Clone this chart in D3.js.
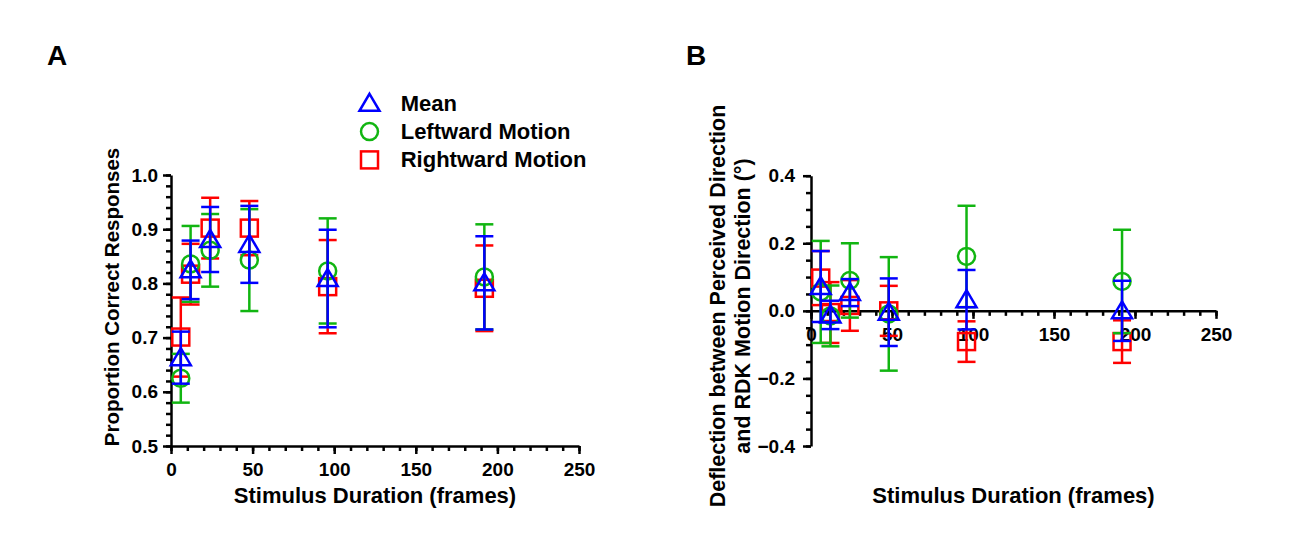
<!DOCTYPE html>
<html lang="en">
<head>
<meta charset="utf-8">
<title>Proportion correct and deflection by stimulus duration</title>
<script src="https://cdn.jsdelivr.net/npm/d3@7"></script>
<style>
  body { margin: 0; background: #fff; }
  svg text { font-family: "Liberation Sans", Arial, sans-serif; font-weight: bold; fill: #000; }
</style>
</head>
<body>
<script>

// stimulus durations (frames)
var durations = [6, 12, 24, 48, 96, 192];

// panel A: proportion correct, mean and error half-width
var propMean      = [0.663, 0.825, 0.881, 0.872, 0.809, 0.801];
var propMeanErr   = [0.048, 0.054, 0.060, 0.071, 0.090, 0.086];
var propLeft      = [0.625, 0.836, 0.861, 0.843, 0.823, 0.812];
var propLeftErr   = [0.045, 0.070, 0.067, 0.094, 0.097, 0.097];
var propRight     = [0.701, 0.817, 0.902, 0.902, 0.794, 0.791];
var propRightErr  = [0.073, 0.056, 0.056, 0.050, 0.086, 0.079];

// panel B: deflection (deg)
var deflMean      = [0.072, -0.012, 0.054, -0.004, 0.033, 0.000];
var deflMeanErr   = [0.105, 0.042, 0.040, 0.100, 0.088, 0.089];
var deflLeft      = [0.056, -0.015, 0.090, -0.009, 0.161, 0.087];
var deflLeftErr   = [0.151, 0.090, 0.110, 0.168, 0.150, 0.153];
var deflRight     = [0.097, -0.005, 0.016, 0.000, -0.091, -0.091];
var deflRightErr  = [0.080, 0.090, 0.075, 0.074, 0.060, 0.063];

var xTicks = [0, 50, 100, 150, 200, 250];
var yTicksA = [0.5, 0.6, 0.7, 0.8, 0.9, 1.0];
var yTicksB = [-0.4, -0.2, 0.0, 0.2, 0.4];

var seriesNames = ["Mean", "Leftward Motion", "Rightward Motion"];
var colors = { mean: "#0000ff", left: "#11b511", right: "#ff0000" };

var w = 1298, h = 542;
var svg = d3.select("body").append("svg").attr("width", w).attr("height", h);

var sw = 2.5;

//marker shapes
function drawMarker(g, shape, color) {
  if (shape == "triangle") {
    g.append("path").attr("d", "M0,-9.5L10,7.5L-10,7.5Z");
  } else if (shape == "circle") {
    g.append("circle").attr("r", 8.5);
  } else {
    g.append("rect").attr("x", -8.5).attr("y", -8.5).attr("width", 17).attr("height", 17);
  }
  g.selectAll("*").attr("fill", "none").attr("stroke", color).attr("stroke-width", sw);
}

function drawPanel(cfg) {
  var x = d3.scaleLinear().domain([0, 250]).range([cfg.x0, cfg.x1]);
  var y = d3.scaleLinear().domain(cfg.yDomain).range([cfg.y1, cfg.y0]);
  var g = svg.append("g");

  var xAxisY = y(cfg.xAxisAt);

  //minor ticks
  g.append("g").attr("transform", "translate(0," + xAxisY + ")")
    .call(d3.axisBottom(x).tickValues(d3.range(0, 251, 10)).tickSize(5).tickFormat(""))
    .call(function(s) { s.select(".domain").remove(); });
  g.append("g").attr("transform", "translate(" + cfg.x0 + ",0)")
    .call(d3.axisLeft(y).tickValues(cfg.yMinor).tickSize(5).tickFormat(""))
    .call(function(s) { s.select(".domain").remove(); });

  //major ticks and labels
  g.append("g").attr("transform", "translate(0," + xAxisY + ")")
    .call(d3.axisBottom(x).tickValues(xTicks).tickSize(8).tickSizeOuter(0).tickPadding(9).tickFormat(d3.format("d")));
  g.append("g").attr("transform", "translate(" + cfg.x0 + ",0)")
    .call(d3.axisLeft(y).tickValues(cfg.yTicks).tickSize(8).tickSizeOuter(0).tickPadding(cfg.yPad).tickFormat(d3.format(".1f")));

  g.selectAll(".tick text").attr("font-size", 19);
  g.selectAll(".domain, .tick line").attr("stroke", "#000").attr("stroke-width", sw);
  g.selectAll("g").attr("font-family", null);

  var series = [
    { vals: cfg.right, err: cfg.rightErr, shape: "square", color: colors.right },
    { vals: cfg.left, err: cfg.leftErr, shape: "circle", color: colors.left },
    { vals: cfg.mean, err: cfg.meanErr, shape: "triangle", color: colors.mean }
  ];

  series.forEach(function(s) {
    var sg = g.append("g");
    durations.forEach(function(d, i) {
      var cx = x(d), hi = y(s.vals[i] + s.err[i]), lo = y(s.vals[i] - s.err[i]);
      sg.append("line").attr("x1", cx).attr("x2", cx).attr("y1", hi).attr("y2", lo);
      sg.append("line").attr("x1", cx - 9).attr("x2", cx + 9).attr("y1", hi).attr("y2", hi);
      sg.append("line").attr("x1", cx - 9).attr("x2", cx + 9).attr("y1", lo).attr("y2", lo);
    });
    sg.selectAll("line").attr("stroke", s.color).attr("stroke-width", sw);
    durations.forEach(function(d, i) {
      var mg = sg.append("g").attr("transform", "translate(" + x(d) + "," + y(s.vals[i]) + ")");
      drawMarker(mg, s.shape, s.color);
    });
  });

  //axis titles
  g.append("text").attr("x", (cfg.x0 + cfg.x1) / 2).attr("y", 503)
    .attr("text-anchor", "middle").attr("font-size", 22).text("Stimulus Duration (frames)");

  cfg.yTitle.forEach(function(t, i) {
    g.append("text")
      .attr("transform", "translate(" + cfg.yTitleX[i] + "," + cfg.yTitleY + ") rotate(-90)")
      .attr("text-anchor", "middle").attr("font-size", cfg.yTitleSize).text(t);
  });

  g.append("text").attr("x", cfg.labelX).attr("y", 65).attr("font-size", 28).text(cfg.label);
}

drawPanel({
  x0: 171, x1: 579, y0: 175, y1: 446,
  yDomain: [0.5, 1.0], xAxisAt: 0.5,
  yTicks: yTicksA, yMinor: d3.range(0.5, 1.001, 0.02), yPad: 5,
  mean: propMean, meanErr: propMeanErr,
  left: propLeft, leftErr: propLeftErr,
  right: propRight, rightErr: propRightErr,
  yTitle: ["Proportion Correct Responses"], yTitleX: [119], yTitleY: 297, yTitleSize: 20.5,
  label: "A", labelX: 47
});

drawPanel({
  x0: 811, x1: 1216, y0: 175.7, y1: 446,
  yDomain: [-0.4, 0.4], xAxisAt: 0,
  yTicks: yTicksB, yMinor: d3.range(-0.4, 0.401, 0.05), yPad: 8,
  mean: deflMean, meanErr: deflMeanErr,
  left: deflLeft, leftErr: deflLeftErr,
  right: deflRight, rightErr: deflRightErr,
  yTitle: ["Deflection between Perceived Direction", "and RDK Motion Direction (\u00b0)"],
  yTitleX: [725, 750], yTitleY: 306, yTitleSize: 21.5,
  label: "B", labelX: 686
});

//legend
var legend = svg.append("g");
var legendShapes = ["triangle", "circle", "square"];
var legendColors = [colors.mean, colors.left, colors.right];
seriesNames.forEach(function(name, i) {
  var ly = 103.3 + i * 28.3;
  var mg = legend.append("g").attr("transform", "translate(369.5," + ly + ")");
  drawMarker(mg, legendShapes[i], legendColors[i]);
  legend.append("text").attr("x", 400.7).attr("y", ly + 7.5).attr("font-size", 22).text(name);
});

</script>
</body>
</html>
